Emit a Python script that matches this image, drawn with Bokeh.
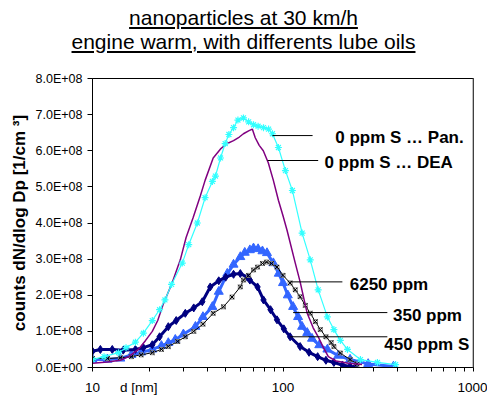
from bokeh.plotting import figure
from bokeh.models import (FixedTicker, Span, Div, ColumnDataSource, Title)
from bokeh.layouts import column
from bokeh.core.properties import value
from bokeh.embed import file_html
from bokeh.resources import INLINE

FONT = "Liberation Sans"

# ---- data (d in nm, counts in 1/cm^3) ----
pan_d = [10, 11.5, 13.7, 15, 16.8, 18.5, 20.6, 22.5, 24, 26, 29.6, 32, 35.5, 39, 42.6, 44.2, 47, 49.7,
         52, 55, 58, 62, 66, 70, 74, 79, 84, 88, 94.6, 103, 112, 126, 139, 153, 171, 185, 200, 218,
         255, 313, 390]
pan_v = [0.22e8, 0.3e8, 0.41e8, 0.55e8, 0.7e8, 0.95e8, 1.3e8, 1.6e8, 1.87e8, 2.3e8, 2.89e8, 3.4e8,
         4.0e8, 4.7e8, 5.15e8, 5.3e8, 5.8e8, 6.2e8, 6.45e8, 6.64e8, 6.85e8, 6.91e8, 6.8e8, 6.72e8,
         6.68e8, 6.64e8, 6.6e8, 6.47e8, 6.09e8, 5.45e8, 4.9e8, 3.72e8, 2.98e8, 2.15e8, 1.4e8, 1.05e8,
         0.75e8, 0.5e8, 0.22e8, 0.14e8, 0.08e8]

dea_d = [10, 12, 14, 15.5, 17.4, 19, 20.6, 22, 23.5, 26, 28.9, 31, 33.8, 36.8, 39, 43, 47, 51, 55,
         59, 62, 66, 69, 71.5, 75, 78.8, 83.7, 89, 94.6, 100, 105, 116, 123, 128, 134, 144, 153, 163,
         173, 190, 220, 260]
dea_v = [0.12e8, 0.15e8, 0.2e8, 0.3e8, 0.5e8, 0.75e8, 1.0e8, 1.3e8, 1.75e8, 2.3e8, 2.98e8, 3.6e8,
         4.16e8, 4.75e8, 5.18e8, 5.8e8, 6.05e8, 6.2e8, 6.28e8, 6.38e8, 6.47e8, 6.55e8, 6.6e8, 6.36e8,
         6.15e8, 6.0e8, 5.67e8, 5.18e8, 4.63e8, 4.2e8, 3.8e8, 2.89e8, 2.37e8, 1.96e8, 1.5e8, 1.1e8,
         0.85e8, 0.55e8, 0.3e8, 0.18e8, 0.12e8, 0.08e8]

s350_d = [10, 12, 14, 16, 18, 20.6, 23, 25, 27.2, 30, 34.7, 38, 42.6, 46, 51, 55, 59.7, 63, 67, 70,
          74, 78, 82.4, 89, 95, 100, 106, 113, 120, 126, 134, 142, 155, 171, 195, 225, 280, 380]
s350_v = [0.22e8, 0.22e8, 0.25e8, 0.35e8, 0.42e8, 0.5e8, 0.6e8, 0.68e8, 0.77e8, 0.92e8, 1.13e8, 1.4e8,
          1.68e8, 2.1e8, 2.6e8, 2.85e8, 3.06e8, 3.18e8, 3.25e8, 3.3e8, 3.28e8, 3.22e8, 3.17e8, 2.89e8,
          2.6e8, 2.34e8, 2.0e8, 1.68e8, 1.4e8, 1.13e8, 0.96e8, 0.8e8, 0.62e8, 0.5e8, 0.33e8, 0.22e8,
          0.1e8, 0.03e8]

s450_d = [10, 11, 12.7, 14.5, 16.8, 18.5, 20.6, 22.5, 25, 27.5, 30.7, 34, 37.7, 41.5, 46, 50, 55,
          59.7, 65, 67, 73.5, 79, 86, 93, 101, 109, 123, 137, 152, 168, 185, 205, 225, 240]
s450_v = [0.45e8, 0.5e8, 0.5e8, 0.48e8, 0.5e8, 0.55e8, 0.63e8, 0.85e8, 1.13e8, 1.3e8, 1.5e8, 1.65e8,
          1.82e8, 2.23e8, 2.4e8, 2.5e8, 2.58e8, 2.6e8, 2.5e8, 2.42e8, 2.23e8, 1.87e8, 1.6e8, 1.32e8,
          1.07e8, 0.85e8, 0.58e8, 0.42e8, 0.3e8, 0.2e8, 0.14e8, 0.07e8, 0.03e8, 0.02e8]

s6250_d = [10, 12, 14, 16, 18, 20.6, 23, 25, 28, 30.7, 34, 38, 43, 48.7, 54, 59.7, 62, 66, 70, 73.5,
           78, 82, 87, 93, 100, 109, 116, 123, 131, 139, 148, 157, 168, 179, 185, 200, 225, 245]
s6250_v = [0.25e8, 0.25e8, 0.27e8, 0.3e8, 0.35e8, 0.41e8, 0.5e8, 0.58e8, 0.72e8, 0.85e8, 1.0e8, 1.2e8,
           1.5e8, 1.68e8, 1.95e8, 2.23e8, 2.42e8, 2.55e8, 2.7e8, 2.78e8, 2.88e8, 2.92e8, 2.88e8, 2.78e8,
           2.55e8, 2.34e8, 2.15e8, 1.96e8, 1.72e8, 1.5e8, 1.27e8, 1.05e8, 0.85e8, 0.69e8, 0.58e8,
           0.4e8, 0.22e8, 0.1e8]

# annotation labels and leader lines
ann_text = ["0 ppm S \u2026 Pan.", "0 ppm S \u2026 DEA", "6250 ppm", "350 ppm", "450 ppm S"]
ann_tx = [188, 165, 224, 378, 340]
ann_ty = [6.36e8, 5.67e8, 2.31e8, 1.43e8, 0.63e8]
lead_x0 = [88, 83, 109, 113, 109]
lead_x1 = [143, 153, 205, 353, 353]
lead_y = [6.42e8, 5.73e8, 2.37e8, 1.52e8, 0.85e8]

y_ticks = [0, 1e8, 2e8, 3e8, 4e8, 5e8, 6e8, 7e8, 8e8]
y_tick_labels = ["0.0E+00", "1.0E+08", "2.0E+08", "3.0E+08", "4.0E+08",
                 "5.0E+08", "6.0E+08", "7.0E+08", "8.0E+08"]
# the x-axis title "d [nm]" sits on the tick-label row, at d = 17.5
x_ticks = [10, 17.5, 100, 1000]
x_tick_labels = ["10", "d [nm]", "100", "1000"]
x_minor = [10, 20, 30, 40, 50, 60, 70, 80, 90, 100, 200, 300, 400, 500, 600, 700, 800, 900, 1000]

title_lines = ["nanoparticles at 30 km/h", "engine warm, with differents lube oils"]
y_title = "counts dN/dlog Dp [1/cm \u00b3]"

# ---- title ----
div = Div(text=("<div style=\"width:487px;font-family:'Liberation Sans',Arial,sans-serif;font-size:21px;"
                "line-height:24px;text-align:center;text-decoration:underline;color:#000;"
                "padding-top:6px;margin:0;\">" + "<br>".join(title_lines) + "</div>"),
          width=487, height=56, margin=0)

p = figure(width=487, height=341, x_axis_type="log", x_range=(10, 1000), y_range=(0, 8e8),
           output_backend="svg", toolbar_location=None,
           min_border_left=92, min_border_right=14, min_border_top=22, min_border_bottom=29,
           margin=0)
p.grid.visible = False
p.outline_line_color = "black"
p.outline_line_width = 1

p.xaxis.ticker = FixedTicker(ticks=x_ticks, minor_ticks=x_minor)
p.xaxis.major_label_overrides = {t: s for t, s in zip(x_ticks, x_tick_labels)}
p.yaxis.ticker = FixedTicker(ticks=y_ticks, minor_ticks=[])
p.yaxis.major_label_overrides = {t: s for t, s in zip(y_ticks, y_tick_labels)}

for ax in (p.xaxis[0], p.yaxis[0]):
    ax.axis_line_color = "black"
    ax.major_tick_line_color = "black"
    ax.minor_tick_line_color = "black"
    ax.major_label_text_font = FONT
    ax.major_label_text_color = "black"
p.xaxis.major_label_text_font_size = "13.5px"
p.yaxis.major_label_text_font_size = "12.5px"
p.xaxis.major_tick_line_color = None
p.xaxis.minor_tick_in = 0
p.xaxis.minor_tick_out = 4
p.xaxis.major_tick_out = 4
p.xaxis.major_tick_in = 0
p.xaxis.major_label_standoff = 8
p.yaxis.major_tick_in = 0
p.yaxis.major_tick_out = 5
p.yaxis.major_label_standoff = 5

p.add_layout(Title(text=y_title, align="center", offset=23, standoff=7, text_font=FONT,
                   text_font_style="bold", text_font_size="17px", text_color="black"), "left")

# ---- series ----
p.line(s350_d, s350_v, line_color="#3366FF", line_width=3)
p.scatter(s350_d, s350_v, marker="triangle", size=9, fill_color="#3366FF", line_color="#3366FF")

p.line(s450_d, s450_v, line_color="#000080", line_width=3)
p.scatter(s450_d, s450_v, marker="diamond", size=8, fill_color="#000080", line_color="#000080")

p.line(s6250_d, s6250_v, line_color="black", line_width=1)
p.scatter(s6250_d, s6250_v, marker="square", size=4, fill_color=None, line_color="#808080")
p.scatter(s6250_d, s6250_v, marker="x", size=6, line_color="black", line_width=1)

p.line(dea_d, dea_v, line_color="#800080", line_width=1.5)

p.line(pan_d, pan_v, line_color="#33FFFF", line_width=1.2)
p.scatter(pan_d, pan_v, marker="asterisk", size=7, line_color="#33FFFF", line_width=1.2)

# leader lines and labels
p.segment(x0=lead_x0, x1=lead_x1, y0=lead_y, y1=lead_y, line_color="black", line_width=1)
ann_src = ColumnDataSource(dict(x=ann_tx, y=ann_ty, t=ann_text))
p.text(x="x", y="y", text="t", source=ann_src, text_font=value(FONT), text_font_style="bold",
       text_font_size="17px", text_baseline="middle", text_align="left", text_color="black")

p.add_layout(Span(location=1000, dimension="height", line_color="#808080", line_width=2))

layout = column(div, p, spacing=0, margin=0)
open("out.html", "w").write(file_html(layout, INLINE))
